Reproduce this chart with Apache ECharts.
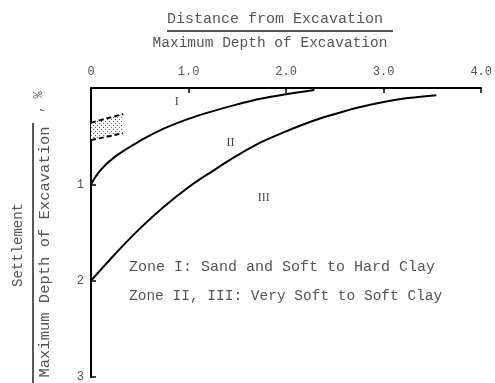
<!DOCTYPE html>
<html><head><meta charset="utf-8">
<script src="https://cdn.jsdelivr.net/npm/echarts@6/dist/echarts.min.js"></script>
<style>html,body{margin:0;padding:0;background:#fff}#c{width:495px;height:383px}</style>
</head><body><div id="c"></div>
<script>
// ---- data ----
const xTicks = [0, 1, 2, 3, 4];
const xTickLabels = ['0', '1.0', '2.0', '3.0', '4.0'];
const yTicks = [0, 1, 2, 3];
const yTickLabels = ['', '1', '2', '3'];
// boundary between Zone I and Zone II
const curveI = [[0,1.0],[0.1,0.85],[0.25,0.71],[0.5,0.55],[0.75,0.42],[1.0,0.32],[1.25,0.24],[1.5,0.17],[1.75,0.11],[2.0,0.065],[2.29,0.02]];
// boundary between Zone II and Zone III
const curveII = [[0,2.0],[0.25,1.72],[0.5,1.46],[0.75,1.23],[1.0,1.03],[1.25,0.86],[1.5,0.70],[1.75,0.56],[2.0,0.45],[2.25,0.35],[2.5,0.27],[2.75,0.20],[3.0,0.145],[3.25,0.105],[3.54,0.075]];
// stippled band (sand)
const bandUpper = [[0,0.36],[0.33,0.27]];
const bandLower = [[0,0.54],[0.33,0.47]];
// zone labels
const zoneNames = ['I', 'II', 'III'];
const zoneLabelPos = [[0.88,0.14],[1.43,0.57],[1.77,1.14]];
const zoneNotes = ['Zone I: Sand and Soft to Hard Clay', 'Zone II, III: Very Soft to Soft Clay'];

// ---- rendering ----
const MONO = '"Liberation Mono", "DejaVu Sans Mono", monospace';
const TXT = '#555';
const pc = document.createElement('canvas');
pc.width = 4; pc.height = 4;
const pctx = pc.getContext('2d');
pctx.fillStyle = '#fff'; pctx.fillRect(0,0,4,4);
pctx.fillStyle = '#666'; pctx.fillRect(1,1,1,1); pctx.fillRect(3,3,1,1);

const chart = echarts.init(document.getElementById('c'), null, {renderer: 'canvas'});
const option = {
  animation: false,
  backgroundColor: '#fff',
  grid: {left: 91, top: 88, right: 10, bottom: 3},
  xAxis: {
    type: 'value', position: 'top', min: 0, max: 4, interval: 1,
    axisLine: {onZero: false, lineStyle: {color: '#000', width: 2}},
    axisTick: {inside: true, length: 5, lineStyle: {color: '#000', width: 1.5}},
    splitLine: {show: false},
    axisLabel: {margin: 10, color: TXT, fontFamily: MONO, fontSize: 12,
      formatter: v => xTickLabels[xTicks.indexOf(v)] || ''}
  },
  yAxis: {
    type: 'value', inverse: true, min: 0, max: 3, interval: 1,
    axisLine: {show: true, onZero: false, lineStyle: {color: '#000', width: 2}},
    axisTick: {show: true, inside: true, length: 5, lineStyle: {color: '#000', width: 1.5}},
    splitLine: {show: false},
    axisLabel: {margin: 7, color: TXT, fontFamily: MONO, fontSize: 12,
      formatter: v => yTickLabels[yTicks.indexOf(v)] || ''}
  },
  series: [
    {type: 'custom', data: [0], z: 1,
      renderItem: (params, api) => {
        const pts = bandUpper.map(p => api.coord(p)).concat(bandLower.slice().reverse().map(p => api.coord(p)));
        return {type: 'polygon', shape: {points: pts}, style: {fill: {image: pc, repeat: 'repeat'}}};
      }},
    {type: 'line', data: bandUpper, symbol: 'none', lineStyle: {color: '#000', width: 2, type: [5, 3]}, z: 3},
    {type: 'line', data: bandLower, symbol: 'none', lineStyle: {color: '#000', width: 2, type: [5, 3]}, z: 3},
    {type: 'line', data: curveI, symbol: 'none', smooth: 0.4, lineStyle: {color: '#000', width: 2}, z: 3},
    {type: 'line', data: curveII, symbol: 'none', smooth: 0.4, lineStyle: {color: '#000', width: 2}, z: 3},
    {type: 'scatter', symbolSize: 0, z: 4,
      data: zoneLabelPos.map((p, i) => ({value: p, name: zoneNames[i]})),
      label: {show: true, position: 'inside', formatter: p => p.name,
        fontFamily: '"Liberation Serif", "DejaVu Serif", serif', fontSize: 12, color: '#111'}}
  ],
  graphic: [
    {type: 'text', x: 275, y: 19, style: {text: 'Distance from Excavation', font: '15px ' + MONO, fill: TXT, textAlign: 'center', textVerticalAlign: 'middle'}},
    {type: 'line', shape: {x1: 167, y1: 31, x2: 393, y2: 31}, style: {stroke: '#222', lineWidth: 1.5}},
    {type: 'text', x: 270, y: 43, style: {text: 'Maximum Depth of Excavation', font: '14.5px ' + MONO, fill: TXT, textAlign: 'center', textVerticalAlign: 'middle'}},
    {type: 'text', x: 18, y: 245, rotation: Math.PI / 2, style: {text: 'Settlement', font: '14px ' + MONO, fill: TXT, textAlign: 'center', textVerticalAlign: 'middle'}},
    {type: 'text', x: 39, y: 102, rotation: Math.PI / 2, style: {text: ', %', font: '12px ' + MONO, fill: TXT, textAlign: 'center', textVerticalAlign: 'middle'}},
    {type: 'line', shape: {x1: 33, y1: 123, x2: 33, y2: 383}, style: {stroke: '#222', lineWidth: 1.5}},
    {type: 'text', x: 45, y: 252, rotation: Math.PI / 2, style: {text: 'Maximum Depth of Excavation', font: '15.5px ' + MONO, fill: TXT, textAlign: 'center', textVerticalAlign: 'middle'}},
    {type: 'text', x: 129, y: 267, style: {text: zoneNotes[0], font: '15px ' + MONO, fill: TXT, textAlign: 'left', textVerticalAlign: 'middle'}},
    {type: 'text', x: 129, y: 296, style: {text: zoneNotes[1], font: '14.5px ' + MONO, fill: TXT, textAlign: 'left', textVerticalAlign: 'middle'}}
  ]
};
chart.setOption(option);
</script>
</body></html>
